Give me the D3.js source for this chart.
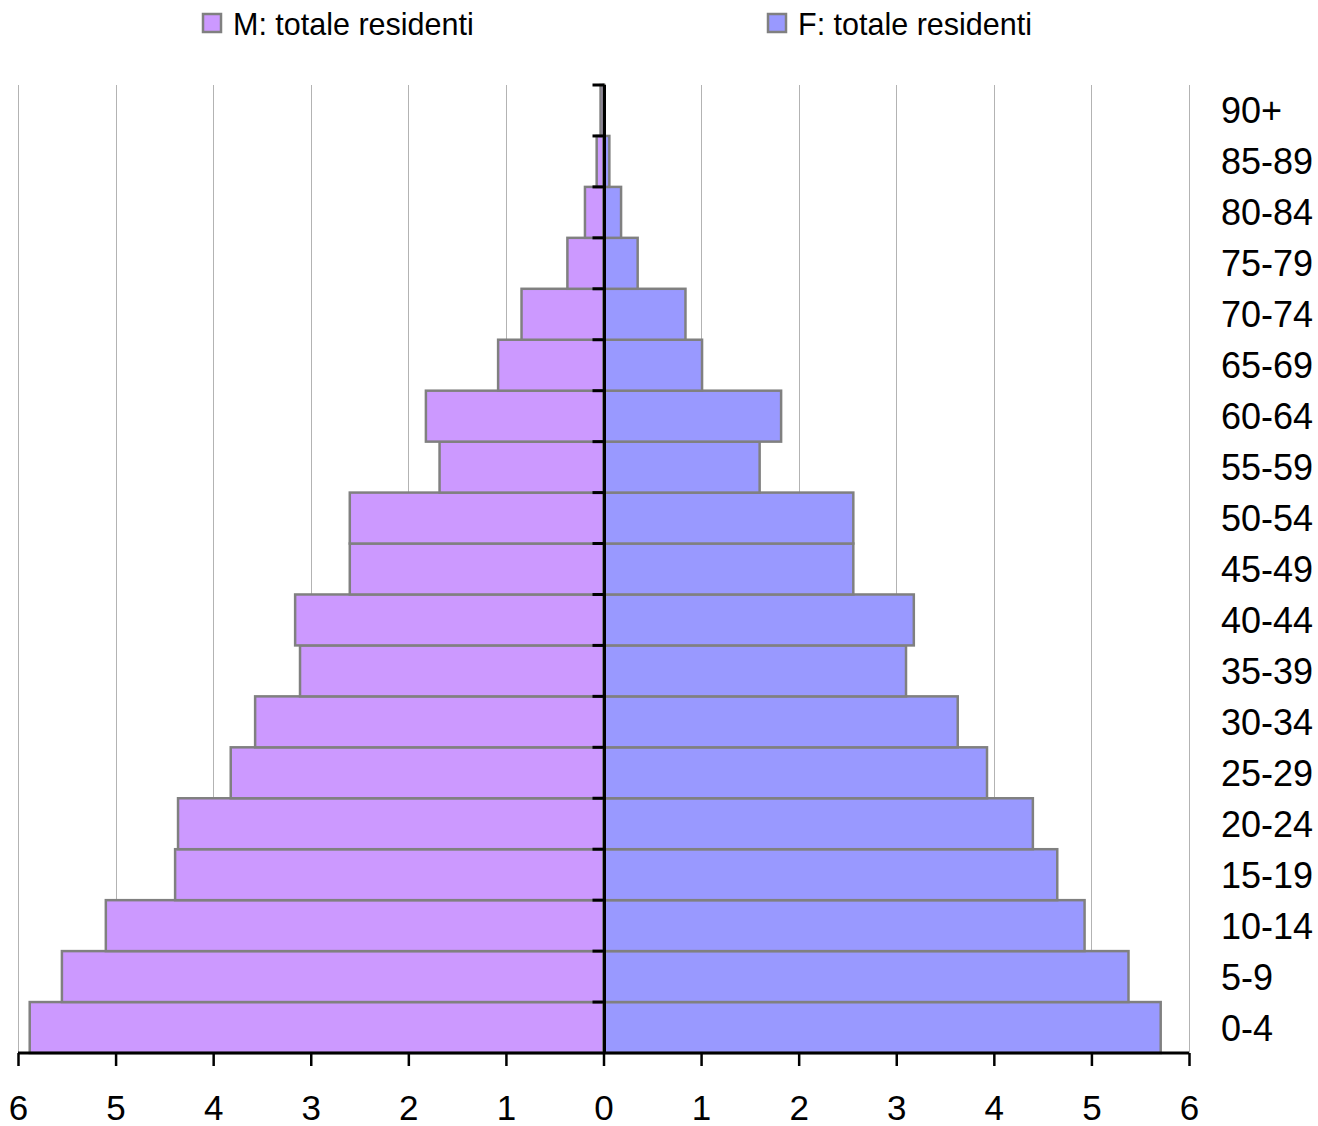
<!DOCTYPE html>
<html><head><meta charset="utf-8">
<script src="https://cdn.jsdelivr.net/npm/d3@7"></script>
<style>body{margin:0;background:#fff;} svg{display:block;font-family:"Liberation Sans",Arial,sans-serif;}</style>
</head><body>
<svg id="c" width="1318" height="1126"></svg>
<script>
const categories = ["0-4","5-9","10-14","15-19","20-24","25-29","30-34","35-39","40-44","45-49","50-54","55-59","60-64","65-69","70-74","75-79","80-84","85-89","90+"];
const maleValues = [5.88,5.55,5.10,4.39,4.36,3.82,3.57,3.11,3.16,2.60,2.60,1.68,1.82,1.08,0.84,0.37,0.19,0.07,0.03];
const femaleValues = [5.71,5.38,4.93,4.65,4.40,3.93,3.63,3.10,3.18,2.56,2.56,1.60,1.82,1.01,0.84,0.35,0.18,0.06,0.01];
const xTicks = [-6,-5,-4,-3,-2,-1,0,1,2,3,4,5,6];
const seriesNames = ["M: totale residenti","F: totale residenti"];

const svg = d3.select("#c");
const x = d3.scaleLinear().domain([-6,6]).range([18,1189]);
const y = d3.scaleBand().domain(categories.slice().reverse()).range([85,1053]).padding(0);

// gridlines
svg.append("g").selectAll("line").data(xTicks.filter(d=>d!==0)).join("line")
  .attr("x1",d=>Math.round(x(d))+0.5).attr("x2",d=>Math.round(x(d))+0.5)
  .attr("y1",85).attr("y2",1053).attr("stroke","#b3b3b3").attr("stroke-width",1);

const data = categories.map((c,i)=>({c, m:maleValues[i], f:femaleValues[i]}));
const bars = svg.append("g");
bars.selectAll("rect.m").data(data).join("rect").attr("class","m")
  .attr("x",d=>x(-d.m)).attr("width",d=>x(0)-x(-d.m))
  .attr("y",d=>y(d.c)).attr("height",y.bandwidth())
  .attr("fill","#CC99FF").attr("stroke","#808080").attr("stroke-width",2.5);
bars.selectAll("rect.f").data(data).join("rect").attr("class","f")
  .attr("x",x(0)).attr("width",d=>x(d.f)-x(0))
  .attr("y",d=>y(d.c)).attr("height",y.bandwidth())
  .attr("fill","#9999FF").attr("stroke","#808080").attr("stroke-width",2.5);

// vertical zero axis with ticks at category boundaries
const x0 = x(0)+1;
svg.append("line").attr("x1",x0).attr("x2",x0).attr("y1",85).attr("y2",1053)
  .attr("stroke","#000").attr("stroke-width",3);
const bounds = categories.map(c=>y(c));
svg.append("g").selectAll("line").data(bounds).join("line")
  .attr("x1",x0-12).attr("x2",x0).attr("y1",d=>d).attr("y2",d=>d)
  .attr("stroke","#000").attr("stroke-width",3);

// bottom axis
const xAxis = d3.axisBottom(x).tickValues(xTicks).tickFormat(d=>Math.abs(d)).tickSize(13).tickPadding(0);
const gx = svg.append("g").attr("transform","translate(0,1053)").call(xAxis);
gx.select(".domain").attr("stroke","#000").attr("stroke-width",3).attr("d",`M${x(-6)},0H${x(6)}`);
gx.selectAll(".tick line").attr("stroke","#000").attr("stroke-width",2.5);
gx.selectAll(".tick text").attr("fill","#000").attr("font-size",35).attr("dy",null)
  .attr("y",67).attr("font-family","Liberation Sans, Arial, sans-serif");

// category labels on the right
svg.append("g").selectAll("text").data(categories).join("text")
  .attr("x",1221).attr("y",d=>y(d)+y.bandwidth()/2+13)
  .attr("font-size",36).attr("fill","#000").text(d=>d);

// legend
const legend = [{name:seriesNames[0],color:"#CC99FF",x:203},{name:seriesNames[1],color:"#9999FF",x:768}];
const lg = svg.append("g").selectAll("g").data(legend).join("g");
lg.append("rect").attr("x",d=>d.x).attr("y",14).attr("width",18).attr("height",18)
  .attr("fill",d=>d.color).attr("stroke","#808080").attr("stroke-width",2.5);
lg.append("text").attr("x",d=>d.x+30).attr("y",35)
  .attr("font-size",30.5).attr("fill","#000").text(d=>d.name);
</script>
</body></html>
